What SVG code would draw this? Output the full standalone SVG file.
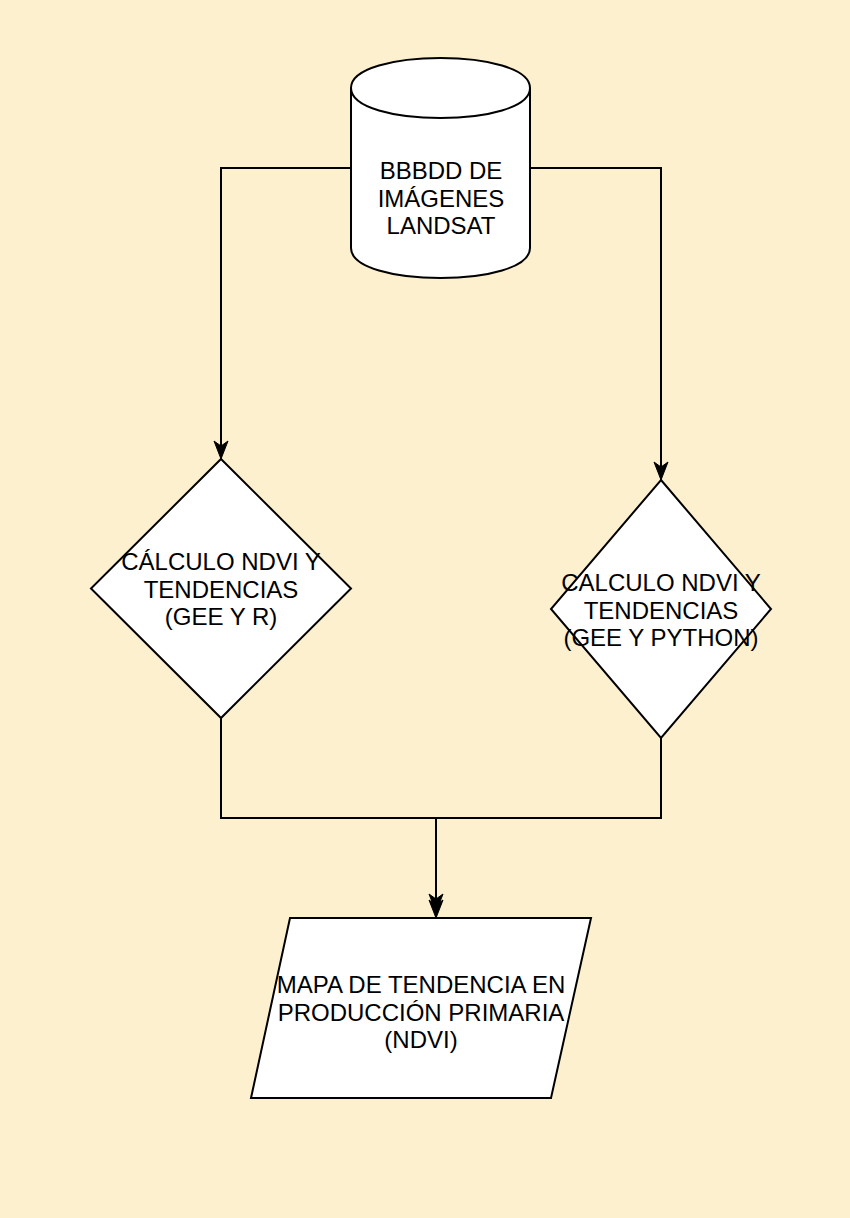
<svg xmlns="http://www.w3.org/2000/svg" width="850" height="1218" viewBox="0 0 850 1218">
  <defs>
    <style>
      .shape { fill: #ffffff; stroke: #000000; stroke-width: 2; }
      .edge { fill: none; stroke: #000000; stroke-width: 2; }
      .lbl { font-family: "Liberation Sans", Arial, Helvetica, sans-serif; font-size: 24px; fill: #000000; text-anchor: middle; }
    </style>
    <marker id="arrow" viewBox="0 0 20 16" refX="19" refY="8" markerWidth="20" markerHeight="16" markerUnits="userSpaceOnUse" orient="auto">
      <path d="M1,1 L19,8 L1,15 L6,8 Z" fill="#000000" stroke="#000000" stroke-width="1"/>
    </marker>
  </defs>
  <rect x="0" y="0" width="850" height="1218" fill="#FCF0CF"/>

  <g id="connectors">
    <path class="edge" d="M351,168 L221,168 L221,459" marker-end="url(#arrow)"/>
    <path class="edge" d="M530,168 L661,168 L661,480" marker-end="url(#arrow)"/>
    <path class="edge" d="M221,718 L221,818 L436,818 L436,912" marker-end="url(#arrow)"/>
    <path class="edge" d="M661,738 L661,818 L436,818 L436,918" marker-end="url(#arrow)"/>
  </g>

  <g id="node-db">
    <path class="shape" d="M351,88 C351,48 530,48 530,88 L530,248 C530,288 351,288 351,248 Z"/>
    <path class="shape" fill="none" d="M351,88 C351,128 530,128 530,88"/>
    <text class="lbl" transform="translate(441,198)"><tspan x="0" y="-18.9">BBBDD DE</tspan><tspan x="0" y="8.6">IMÁGENES</tspan><tspan x="0" y="36.1">LANDSAT</tspan></text>
  </g>

  <g id="node-calc-r">
    <polygon class="shape" points="221,459 351,588.5 221,718 91,588.5"/>
    <text class="lbl" transform="translate(221,589)"><tspan x="0" y="-18.9">CÁLCULO NDVI Y</tspan><tspan x="0" y="8.6">TENDENCIAS</tspan><tspan x="0" y="36.1">(GEE Y R)</tspan></text>
  </g>

  <g id="node-calc-python">
    <polygon class="shape" points="661,480 771,609 661,738 551,609"/>
    <text class="lbl" transform="translate(661,610)"><tspan x="0" y="-18.9">CALCULO NDVI Y</tspan><tspan x="0" y="8.6">TENDENCIAS</tspan><tspan x="0" y="36.1">(GEE Y PYTHON)</tspan></text>
  </g>

  <g id="node-map">
    <polygon class="shape" points="290,918 591,918 551,1098 251,1098"/>
    <text class="lbl" transform="translate(421,1012)"><tspan x="0" y="-18.9">MAPA DE TENDENCIA EN</tspan><tspan x="0" y="8.6">PRODUCCIÓN PRIMARIA</tspan><tspan x="0" y="36.1">(NDVI)</tspan></text>
  </g>
</svg>
